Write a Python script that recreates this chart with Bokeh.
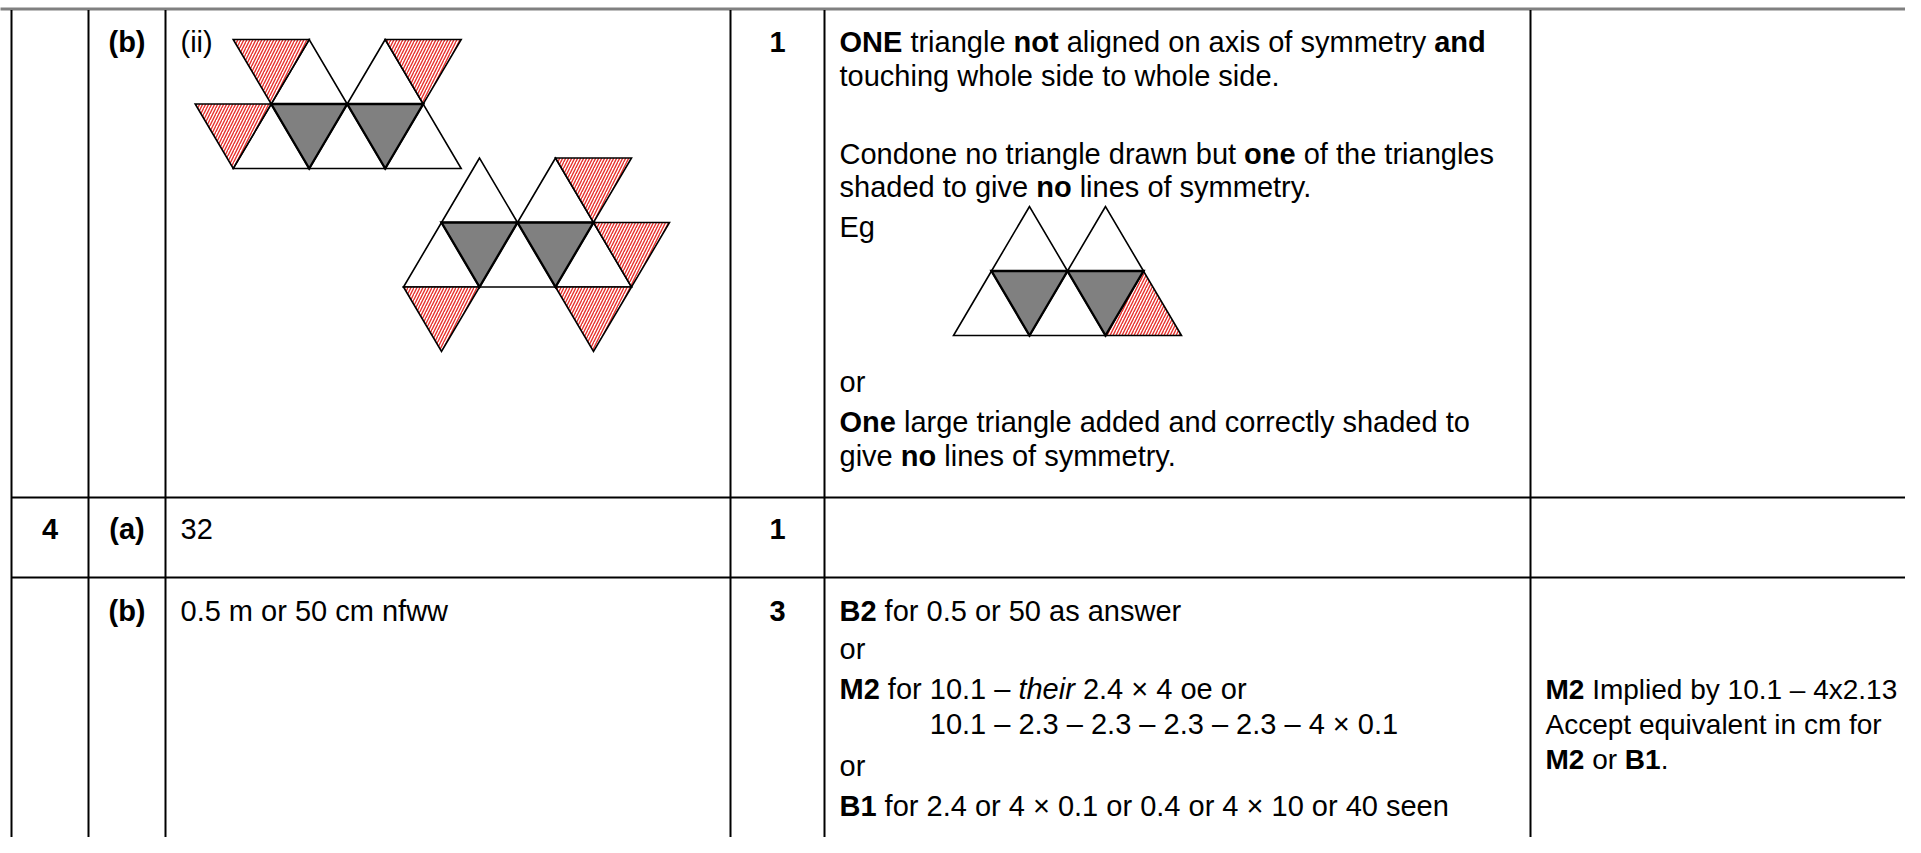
from bokeh.plotting import figure
from bokeh.models import Range1d
from bokeh.embed import file_html
from bokeh.resources import INLINE
from bokeh.core.properties import value

# ---------------- data (texts of the mark scheme) ----------------
Q_NUMBERS = ["", "4", ""]
PARTS = ["(b)", "(a)", "(b)"]
ANSWERS = ["(ii)", "32", "0.5 m or 50 cm nfww"]
MARKS = ["1", "1", "3"]

# guidance lines, as (text, style) segments: n=normal, b=bold, i=italic
GUIDANCE_ROW1 = [
    [("ONE", "b"), (" triangle ", "n"), ("not", "b"), (" aligned on axis of symmetry ", "n"), ("and", "b")],
    [("touching whole side to whole side.", "n")],
    [("Condone no triangle drawn but ", "n"), ("one", "b"), (" of the triangles", "n")],
    [("shaded to give ", "n"), ("no", "b"), (" lines of symmetry.", "n")],
    [("Eg", "n")],
    [("or", "n")],
    [("One", "b"), (" large triangle added and correctly shaded to", "n")],
    [("give ", "n"), ("no", "b"), (" lines of symmetry.", "n")],
]
GUIDANCE_ROW3 = [
    [("B2", "b"), (" for 0.5 or 50 as answer", "n")],
    [("or", "n")],
    [("M2", "b"), (" for ", "n"), ("10.1 \u2013 ", "n"), ("their", "i"), (" 2.4 \u00d7 4 oe or", "n")],
    [("10.1 \u2013 2.3 \u2013 2.3 \u2013 2.3 \u2013 2.3 \u2013 4 \u00d7 0.1", "n")],
    [("or", "n")],
    [("B1", "b"), (" for 2.4 or 4 \u00d7 0.1 or 0.4 or 4 \u00d7 10 or 40 seen", "n")],
]
NOTES_ROW3 = [
    [("M2", "b"), (" Implied by 10.1 \u2013 4x2.13", "n")],
    [("Accept equivalent in cm for", "n")],
    [("M2", "b"), (" or ", "n"), ("B1", "b"), (".", "n")],
]

# triangle nets: (fill kind, three vertices in (half-side, row) lattice units)
NET_A = [
    ("red", [(0, 0), (2, 0), (1, 1)]),
    ("white", [(2, 0), (1, 1), (3, 1)]),
    ("white", [(4, 0), (3, 1), (5, 1)]),
    ("red", [(4, 0), (6, 0), (5, 1)]),
    ("red", [(-1, 1), (1, 1), (0, 2)]),
    ("white", [(1, 1), (0, 2), (2, 2)]),
    ("grey", [(1, 1), (3, 1), (2, 2)]),
    ("white", [(3, 1), (2, 2), (4, 2)]),
    ("grey", [(3, 1), (5, 1), (4, 2)]),
    ("white", [(5, 1), (4, 2), (6, 2)]),
]
NET_B = [
    ("white", [(2, 0), (1, 1), (3, 1)]),
    ("white", [(4, 0), (3, 1), (5, 1)]),
    ("red", [(4, 0), (6, 0), (5, 1)]),
    ("white", [(1, 1), (0, 2), (2, 2)]),
    ("grey", [(1, 1), (3, 1), (2, 2)]),
    ("white", [(3, 1), (2, 2), (4, 2)]),
    ("grey", [(3, 1), (5, 1), (4, 2)]),
    ("white", [(5, 1), (4, 2), (6, 2)]),
    ("red", [(5, 1), (7, 1), (6, 2)]),
    ("red", [(0, 2), (2, 2), (1, 3)]),
    ("red", [(4, 2), (6, 2), (5, 3)]),
]
NET_EG = [
    ("white", [(2, 0), (1, 1), (3, 1)]),
    ("white", [(4, 0), (3, 1), (5, 1)]),
    ("white", [(1, 1), (0, 2), (2, 2)]),
    ("grey", [(1, 1), (3, 1), (2, 2)]),
    ("white", [(3, 1), (2, 2), (4, 2)]),
    ("grey", [(3, 1), (5, 1), (4, 2)]),
    ("red", [(5, 1), (4, 2), (6, 2)]),
]

# ---------------- layout ----------------
W, H = 1905, 837
FONT = "Liberation Sans"
FS = 29.0
FS_NOTES = 28.0
WIDTH_FUDGE = 1.0
COL_EDGES = [11, 88, 165, 730, 824, 1530]
ROW_LINES = [497, 577]
TOP_Y = 8.5
ROW_BASE = [41.7, 528, 610]
G1_BASE = [41.7, 75, 153.3, 186.7, 226.7, 381, 421.7, 455]
G3_BASE = [610, 648.3, 688.3, 723.3, 765, 805]
N3_BASE = [689, 724, 759]
TXT_PAD = 15
HALF, ROWH = 38.0, 64.5
NET_ORIGINS = [(232.7, 39.0), (403.0, 157.5), (953.0, 206.0)]
RED = "#e8302c"
GREY = "#808080"

# Helvetica/Arial advance widths (1/1000 em) for chars 32..126
REG = [278, 278, 355, 556, 556, 889, 667, 191, 333, 333,
       389, 584, 278, 333, 278, 278, 556, 556, 556, 556,
       556, 556, 556, 556, 556, 556, 278, 278, 584, 584,
       584, 556, 1015, 667, 667, 722, 722, 667, 611, 778,
       722, 278, 500, 667, 556, 833, 722, 778, 667, 778,
       722, 667, 611, 722, 667, 944, 667, 667, 611, 278,
       278, 278, 469, 556, 333, 556, 556, 500, 556, 556,
       278, 556, 556, 222, 222, 500, 222, 833, 556, 556,
       556, 556, 333, 500, 278, 556, 500, 722, 500, 500,
       500, 334, 260, 334, 584]
BOLD = [278, 333, 474, 556, 556, 889, 722, 238, 333, 333,
        389, 584, 278, 333, 278, 278, 556, 556, 556, 556,
        556, 556, 556, 556, 556, 556, 333, 333, 584, 584,
        584, 611, 975, 722, 722, 722, 722, 667, 611, 778,
        722, 278, 556, 722, 611, 833, 722, 778, 667, 778,
        722, 667, 611, 722, 667, 944, 667, 667, 611, 333,
        278, 333, 584, 556, 333, 556, 611, 556, 611, 556,
        333, 611, 611, 278, 278, 556, 278, 889, 611, 611,
        611, 611, 389, 556, 333, 611, 556, 778, 556, 556,
        500, 389, 280, 389, 584]
EXTRA = {"\u2013": 556, "\u00d7": 584}


def text_width(s, style, fs):
    table = BOLD if style == "b" else REG
    tot = 0
    for ch in s:
        o = ord(ch)
        if 32 <= o <= 126:
            tot += table[o - 32]
        else:
            tot += EXTRA.get(ch, 556)
    w = tot / 1000.0 * fs
    return w if style == "b" else w * WIDTH_FUDGE


p = figure(width=W, height=H, output_backend="svg", toolbar_location=None,
           x_range=Range1d(0, W), y_range=Range1d(H, 0),
           min_border=0)
p.axis.visible = False
p.grid.visible = False
p.outline_line_color = None
p.background_fill_color = "white"
p.border_fill_color = "white"

# ---------------- table rules ----------------
p.segment(x0=[-10], y0=[TOP_Y], x1=[1930], y1=[TOP_Y], line_color=GREY, line_width=3)
p.segment(x0=COL_EDGES, y0=[TOP_Y + 1] * len(COL_EDGES), x1=COL_EDGES, y1=[870] * len(COL_EDGES),
          line_color="black", line_width=2)
p.segment(x0=[COL_EDGES[0]] * len(ROW_LINES), y0=ROW_LINES, x1=[1930] * len(ROW_LINES), y1=ROW_LINES,
          line_color="black", line_width=2.2)

# ---------------- triangle nets ----------------
groups = {"white": ([], []), "grey": ([], []), "red": ([], [])}
for net, (ox, oy) in zip([NET_A, NET_B, NET_EG], NET_ORIGINS):
    for kind, verts in net:
        groups[kind][0].append([ox + u * HALF for u, r in verts])
        groups[kind][1].append([oy + r * ROWH for u, r in verts])

p.patches(groups["white"][0], groups["white"][1], fill_color="white",
          line_color="black", line_width=1.6, line_join="miter")
p.patches(groups["red"][0], groups["red"][1], fill_color="white",
          hatch_pattern="/", hatch_color=RED, hatch_scale=6, hatch_weight=1.4,
          line_color="black", line_width=1.6, line_join="miter")
p.patches(groups["grey"][0], groups["grey"][1], fill_color=GREY,
          line_color="black", line_width=2.4, line_join="miter")

# ---------------- texts ----------------
recs = {}


def add_line(x, y, segs, fs):
    for s, st in segs:
        lead = len(s) - len(s.lstrip(" "))
        core = s.strip(" ")
        if core:
            r = recs.setdefault((st, fs), {"x": [], "y": [], "t": []})
            r["x"].append(x + text_width(" " * lead, "n", fs))
            r["y"].append(y)
            r["t"].append(core)
        x += text_width(s, st, fs)


for lines, base, x0, fs in [(GUIDANCE_ROW1, G1_BASE, COL_EDGES[4] + TXT_PAD, FS),
                            (GUIDANCE_ROW3, G3_BASE, COL_EDGES[4] + TXT_PAD, FS),
                            (NOTES_ROW3, N3_BASE, COL_EDGES[5] + TXT_PAD, FS_NOTES)]:
    for k, (segs, y) in enumerate(zip(lines, base)):
        x = x0
        if lines is GUIDANCE_ROW3 and k == 3:
            # aligned under "10.1" of the previous line
            x = x0 + text_width("M2", "b", fs) + text_width(" for ", "n", fs)
        add_line(x, y, segs, fs)

for ans, y in zip(ANSWERS, ROW_BASE):
    add_line(COL_EDGES[2] + TXT_PAD, y, [(ans, "n")], FS)

STYLE_NAMES = {"n": "normal", "b": "bold", "i": "italic"}
for (st, fs), r in recs.items():
    p.text(x=r["x"], y=r["y"], text=r["t"], text_font=value(FONT), text_font_size=f"{fs}px",
           text_font_style=STYLE_NAMES[st], text_color="black", text_align="left",
           text_baseline="alphabetic")

cx, cy, ct = [], [], []
for col, items in [((COL_EDGES[0] + COL_EDGES[1]) / 2, Q_NUMBERS),
                   ((COL_EDGES[1] + COL_EDGES[2]) / 2, PARTS),
                   ((COL_EDGES[3] + COL_EDGES[4]) / 2, MARKS)]:
    for s, y in zip(items, ROW_BASE):
        if s:
            cx.append(col)
            cy.append(y)
            ct.append(s)
p.text(x=cx, y=cy, text=ct, text_font=value(FONT), text_font_size=f"{FS}px",
       text_font_style="bold", text_color="black", text_align="center",
       text_baseline="alphabetic")

open("out.html", "w").write(file_html(p, INLINE))
